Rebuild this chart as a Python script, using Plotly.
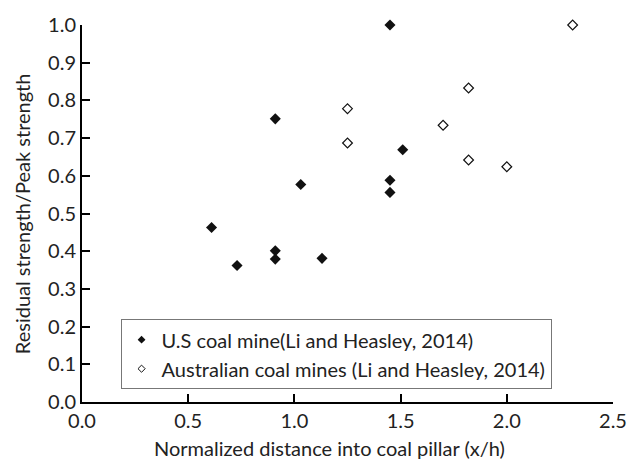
import plotly.graph_objects as go

us_x = [0.61, 0.73, 0.91, 0.91, 0.91, 1.03, 1.13, 1.45, 1.45, 1.45, 1.51]
us_y = [0.463, 0.362, 0.401, 0.379, 0.751, 0.577, 0.381, 1.0, 0.588, 0.556, 0.669]
au_x = [1.25, 1.25, 1.70, 1.82, 1.82, 2.0, 2.31]
au_y = [0.778, 0.687, 0.734, 0.833, 0.642, 0.624, 1.0]

x_ticks = [0.0, 0.5, 1.0, 1.5, 2.0, 2.5]
y_ticks = [0.0, 0.1, 0.2, 0.3, 0.4, 0.5, 0.6, 0.7, 0.8, 0.9, 1.0]

us_name = "U.S coal mine(Li and Heasley, 2014)"
au_name = "Australian coal mines (Li and Heasley, 2014)"

FONT = "Lato"
FS = 20
TXT = "#222222"
W, H = 639, 463
L, R, T, B = 82, 20, 15, 61

fig = go.Figure()
fig.add_trace(go.Scatter(
    x=us_x, y=us_y, mode="markers", showlegend=False,
    marker=dict(symbol="diamond", size=8.5, color="#111111", line=dict(width=0)),
    cliponaxis=False))
fig.add_trace(go.Scatter(
    x=au_x, y=au_y, mode="markers", showlegend=False,
    marker=dict(symbol="diamond-open", size=7.5, color="#111111", line=dict(width=1.2)),
    cliponaxis=False))
# legend entries (smaller symbols, as in the reference legend)
fig.add_trace(go.Scatter(
    x=[None], y=[None], mode="markers", name=us_name, legendgroup="a",
    marker=dict(symbol="diamond", size=6, color="#111111", line=dict(width=0))))
fig.add_trace(go.Scatter(
    x=[None], y=[None], mode="markers", name=au_name, legendgroup="b",
    marker=dict(symbol="diamond-open", size=5.5, color="#111111", line=dict(width=1))))

axis_common = dict(
    showgrid=False, zeroline=False, showline=True, linecolor="black", linewidth=2,
    ticks="inside", ticklen=8, tickwidth=2, tickcolor="black",
    tickfont=dict(family=FONT, size=FS, color=TXT),
)

fig.update_layout(
    width=W, height=H,
    margin=dict(l=L, r=R, t=T, b=B, pad=0),
    paper_bgcolor="white", plot_bgcolor="white",
    font=dict(family=FONT, size=FS, color=TXT),
    xaxis=dict(range=[0, 2.5], tickvals=x_ticks, ticktext=[f"{v:.1f}" for v in x_ticks], **axis_common),
    yaxis=dict(range=[0, 1.0], tickvals=y_ticks, ticktext=[f"{v:.1f}" for v in y_ticks], **axis_common),
    showlegend=True,
    legend=dict(
        x=(121 - L) / (W - L - R), y=(H - B - 317) / (H - T - B), xanchor="left", yanchor="top",
        bgcolor="white", bordercolor="#777777", borderwidth=1,
        font=dict(family=FONT, size=FS, color=TXT),
        traceorder="grouped", tracegroupgap=0, itemsizing="trace", itemwidth=30,
        entrywidth=420, entrywidthmode="pixels",
    ),
    annotations=[
        dict(text="Normalized distance into coal pillar (x/h)", xref="paper", yref="paper",
             x=(332 - L) / (W - L - R), y=-(449 - (H - B)) / (H - T - B),
             xanchor="center", yanchor="middle", showarrow=False,
             font=dict(family=FONT, size=FS, color=TXT)),
        dict(text="Residual strength/Peak strength", xref="paper", yref="paper",
             x=-(L - 21) / (W - L - R), y=0.5, textangle=-90,
             xanchor="center", yanchor="middle", showarrow=False,
             font=dict(family=FONT, size=FS, color=TXT)),
    ],
)

fig.write_html("out.html")
